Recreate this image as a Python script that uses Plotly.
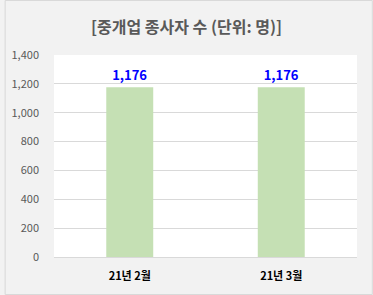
import plotly.graph_objects as go

categories = ["21년 2월", "21년 3월"]
values = [1176, 1176]
labels = ["1,176", "1,176"]
tick_vals = [0, 200, 400, 600, 800, 1000, 1200, 1400]
tick_text = ["0", "200", "400", "600", "800", "1,000", "1,200", "1,400"]

W, H = 373, 295
L, R, T, B = 50, 16, 55, 38
pw, ph = W - L - R, H - T - B

FONT = "Noto Sans CJK KR, Malgun Gothic, sans-serif"

fig = go.Figure()
fig.add_trace(go.Bar(
    x=categories, y=values, text=labels, textposition="outside",
    textfont=dict(color="#0000ff", size=13, family=FONT, weight="bold"),
    marker=dict(color="#c5e0b4", line=dict(width=0)),
    width=0.31, cliponaxis=False,
))

fig.update_layout(
    width=W, height=H,
    margin=dict(l=L, r=R, t=T, b=B),
    paper_bgcolor="#f2f2f2", plot_bgcolor="#ffffff",
    font=dict(family=FONT, color="#595959"),
    showlegend=False,
    title=dict(text="<b>[중개업 종사자 수 (단위: 명)]</b>", x=0.5, xanchor="center",
               y=1 - 27 / H, yanchor="middle",
               font=dict(size=16, color="#595959", family=FONT)),
    xaxis=dict(showgrid=False, showline=True, linecolor="#d9d9d9", linewidth=1,
               tickfont=dict(size=11, color="#000000", family=FONT, weight="bold"),
               ticks="", ticklabelstandoff=9),
    yaxis=dict(range=[0, 1400], tickvals=tick_vals, ticktext=tick_text,
               showgrid=True, gridcolor="#d9d9d9", gridwidth=1, zeroline=False,
               tickfont=dict(size=11, color="#595959", family=FONT),
               ticks="", ticklabelstandoff=14),
    bargap=0.69,
)

# outer chart border
fig.add_shape(type="rect", xref="paper", yref="paper",
              x0=(0.5 - L) / pw, x1=(W - 0.5 - L) / pw,
              y0=-(B - 0.5) / ph, y1=1 + (T - 0.5) / ph,
              line=dict(color="#d9d9d9", width=1), fillcolor="rgba(0,0,0,0)", layer="above")

fig.write_html("out.html")
